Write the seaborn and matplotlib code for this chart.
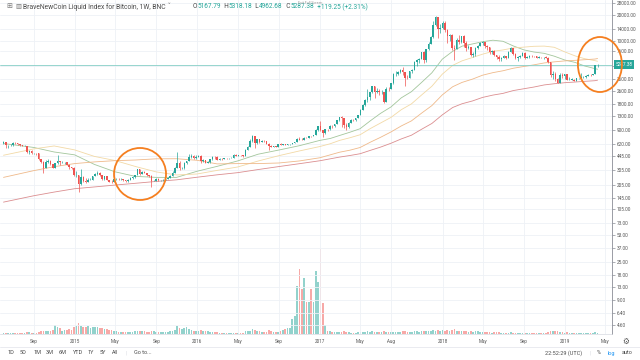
import numpy as np
import pandas as pd
import matplotlib
matplotlib.use("Agg")
import matplotlib.pyplot as plt
import matplotlib.dates as mdates
from matplotlib.patches import Ellipse
from matplotlib.transforms import IdentityTransform, blended_transform_factory
from matplotlib.ticker import NullLocator
import seaborn as sns

# weekly bars, BraveNewCoin liquid index (weeks start on Monday)
first_week = "2014-06-02"
first_open = 630

close_2014 = [655, 595, 595, 600, 635, 627, 620, 595, 588, 590, 500, 515, 478, 480, 478, 410,
              375, 320, 378, 390, 355, 325, 365, 387, 375, 375, 375, 350, 330, 320, 264]
close_2015 = [265, 210, 253, 226, 223, 234, 235, 260, 275, 285, 268, 242, 260, 236, 223, 219,
              240, 240, 237, 240, 230, 225, 233, 245, 250, 270, 310, 274, 290, 281, 265, 258,
              228, 229, 240, 230, 231, 232, 238, 247, 262, 285, 325, 373, 320, 323, 370, 388,
              435, 440, 422, 430]
close_2016 = [447, 387, 403, 368, 376, 407, 438, 433, 403, 413, 410, 425, 420, 422, 428, 460,
              451, 458, 456, 440, 527, 574, 673, 760, 628, 703, 650, 678, 661, 624, 590, 570,
              581, 573, 610, 606, 610, 602, 612, 617, 641, 657, 700, 695, 688, 730, 728, 765,
              762, 790, 890, 998]
close_2017 = [908, 820, 925, 915, 1015, 1000, 1050, 1170, 1270, 1230, 1020, 965, 1095, 1180,
              1175, 1245, 1350, 1550, 1770, 2040, 2200, 2520, 2950, 2520, 2560, 2500, 2500,
              1930, 2750, 2740, 3220, 4050, 4090, 4350, 4580, 4330, 3690, 3670, 4390, 4610,
              5690, 6010, 6150, 7390, 5950, 8040, 9330, 11230, 15300, 19100, 13900, 14150]
close_2018 = [16500, 13600, 11600, 11750, 8200, 8100, 10400, 9650, 11500, 9550, 8200, 8450,
              6850, 7030, 8350, 8800, 9400, 9650, 8700, 8500, 7350, 7700, 6780, 6500, 6150,
              6350, 6750, 6350, 7400, 8200, 7030, 6300, 6500, 6700, 7300, 6250, 6500, 6700,
              6620, 6600, 6300, 6500, 6480, 6480, 6400, 5600, 4000, 4150, 3600, 3250, 4000,
              3900, 4050]
close_2019 = [3500, 3530, 3530, 3410, 3650, 3670, 3750, 3800, 3910, 4000, 3990, 4100, 5168.13,
              5287.38]

high_2014 = [670, 660, 605, 610, 650, 645, 630, 625, 600, 600, 592, 525, 520, 490, 485, 480,
             415, 390, 400, 410, 395, 360, 370, 460, 390, 385, 380, 378, 360, 335, 330]
high_2015 = [300, 270, 310, 260, 245, 245, 248, 262, 285, 297, 290, 270, 262, 262, 236, 232,
             242, 246, 245, 245, 240, 232, 237, 253, 258, 270, 315, 314, 298, 295, 285, 270,
             268, 235, 243, 243, 234, 238, 240, 250, 270, 295, 335, 500, 390, 330, 375, 392,
             467, 465, 457, 452]
high_2016 = [460, 460, 410, 405, 392, 410, 445, 445, 440, 420, 420, 427, 425, 425, 430, 465,
             467, 462, 460, 457, 535, 590, 700, 780, 770, 710, 705, 680, 680, 665, 630, 600,
             585, 590, 612, 630, 615, 612, 618, 620, 642, 660, 720, 740, 720, 750, 745, 770,
             775, 795, 930, 1000]
high_2017 = [1150, 910, 935, 925, 1030, 1020, 1060, 1190, 1290, 1330, 1250, 1075, 1105, 1210,
             1215, 1250, 1350, 1590, 1830, 2100, 2760, 2550, 2990, 2980, 2780, 2700, 2650,
             2550, 2900, 2850, 3250, 4200, 4480, 4400, 4750, 4975, 4350, 3950, 4470, 4650,
             5850, 6190, 6320, 7500, 7600, 8100, 9700, 11400, 17200, 19800, 19200, 15800]
high_2018 = [17200, 17100, 14000, 12250, 11950, 9100, 10980, 11750, 11600, 11700, 9900, 9000,
             8500, 7500, 8430, 9030, 9750, 9990, 9800, 8950, 8600, 7800, 7800, 6850, 6800,
             6500, 6860, 6750, 7560, 8500, 8200, 7160, 6600, 6880, 7400, 7410, 6650, 6800,
             6800, 6760, 6670, 6750, 6540, 6550, 6600, 6480, 5650, 4420, 4300, 3630, 4200,
             4250, 4100]
high_2019 = [4100, 3750, 3640, 3570, 3680, 3720, 4180, 3890, 3960, 4050, 4090, 4120, 5180,
             5318.18]

low_2014 = [625, 560, 560, 585, 590, 610, 600, 580, 580, 577, 480, 465, 465, 470, 460, 395,
            370, 280, 320, 370, 345, 320, 320, 360, 345, 370, 360, 345, 310, 310, 260]
low_2015 = [255, 170, 205, 218, 215, 222, 230, 233, 258, 268, 258, 236, 236, 234, 218, 214,
            220, 235, 232, 231, 226, 220, 222, 232, 240, 248, 264, 270, 272, 278, 260, 255,
            195, 225, 226, 227, 224, 225, 236, 241, 246, 262, 283, 320, 305, 310, 315, 355,
            385, 420, 410, 415]
low_2016 = [440, 370, 375, 365, 365, 370, 400, 415, 400, 400, 405, 408, 412, 415, 418, 425,
            445, 445, 450, 435, 440, 520, 565, 660, 560, 620, 640, 645, 650, 610, 530, 565,
            570, 565, 570, 600, 602, 595, 598, 607, 615, 632, 650, 680, 685, 690, 720, 725,
            750, 765, 790, 888]
low_2017 = [880, 755, 810, 880, 910, 960, 980, 1050, 1140, 980, 950, 890, 960, 1075, 1160,
            1140, 1240, 1340, 1540, 1740, 1900, 2050, 2450, 2150, 2450, 2300, 2380, 1850,
            1930, 2580, 2700, 3150, 3850, 3950, 4250, 4000, 3000, 3550, 3650, 4210, 4580,
            5100, 5450, 6100, 5500, 5600, 7950, 9400, 10900, 15000, 11000, 12500]
low_2018 = [14000, 12800, 9500, 10100, 7800, 6000, 8100, 9300, 9400, 8400, 7700, 8100, 6700,
            6550, 6700, 8000, 8700, 9000, 8300, 7950, 7100, 7050, 6700, 6150, 5780, 5850,
            6300, 6150, 6320, 7400, 6900, 6200, 5880, 6250, 6620, 6150, 6250, 6250, 6500,
            6450, 6250, 6350, 6400, 6200, 6300, 5500, 3800, 3550, 3350, 3200, 3230, 3700,
            3600]
low_2019 = [3500, 3480, 3440, 3380, 3400, 3550, 3660, 3700, 3700, 3850, 3920, 3950, 4080,
            4962.68]

# volume, relative to the tallest week (=100)
vol_2014 = [1, 1, 1, 1, 1, 1, 1, 1, 1, 1, 2, 2, 1, 1, 1, 2, 3, 4, 3, 3, 4, 5, 11, 8, 7, 4, 5,
            5, 6, 5, 8]
vol_2015 = [9, 13, 10, 8, 8, 9, 7, 8, 8, 8, 7, 7, 6, 6, 5, 5, 4, 3, 2, 2, 2, 2, 2, 2, 2, 3,
            3, 4, 3, 3, 2, 2, 4, 3, 2, 2, 2, 2, 2, 2, 3, 3, 5, 10, 7, 6, 7, 8, 6, 5, 4, 4]
vol_2016 = [4, 5, 3, 3, 3, 2, 2, 2, 2, 1, 1, 1, 1, 1, 1, 1, 1, 1, 1, 1, 3, 3, 4, 6, 5, 3, 3,
            2, 2, 2, 5, 3, 2, 2, 2, 3, 5, 6, 7, 7, 18, 21, 57, 76, 53, 66, 38, 38, 53, 38, 74,
            61]
vol_2017 = [100, 37, 11, 4, 3, 2, 2, 2, 2, 2, 3, 2, 2, 1, 1, 1, 2, 2, 2, 2, 3, 2, 3, 2, 2, 2,
            2, 3, 2, 2, 2, 2, 2, 2, 2, 3, 3, 2, 2, 2, 3, 3, 2, 3, 3, 3, 3, 4, 5, 4, 5, 4]
vol_2018 = [5, 4, 5, 3, 5, 6, 3, 3, 3, 3, 3, 2, 3, 2, 3, 3, 2, 2, 2, 2, 2, 1, 2, 2, 2, 1, 1,
            1, 1, 2, 1, 1, 1, 1, 1, 1, 1, 1, 1, 1, 1, 1, 1, 1, 1, 2, 4, 3, 3, 3, 2, 2, 1]
vol_2019 = [2, 1, 1, 1, 1, 1, 1, 1, 1, 1, 1, 1, 2, 1]

# moving averages (30, 50, 100 and 200 weeks)
ma_dates = ["2014-06-02", "2014-08-31", "2014-10-31", "2014-12-31", "2015-02-28",
            "2015-04-30", "2015-06-30", "2015-08-31", "2015-10-31", "2015-12-31",
            "2016-02-29", "2016-04-30", "2016-06-30", "2016-08-31", "2016-10-31",
            "2016-12-31", "2017-01-31", "2017-02-28", "2017-03-31", "2017-04-30",
            "2017-05-31", "2017-06-30", "2017-07-31", "2017-08-31", "2017-09-30",
            "2017-10-31", "2017-11-30", "2017-12-31", "2018-01-31", "2018-02-28",
            "2018-03-31", "2018-04-30", "2018-05-31", "2018-06-30", "2018-07-31",
            "2018-08-31", "2018-09-30", "2018-10-31", "2018-11-30", "2018-12-31",
            "2019-01-31", "2019-02-28", "2019-03-31", "2019-04-08"]
ma30 = [625, 562, 497, 460, 355, 291, 257, 250, 250, 295, 337, 390, 468, 524, 589, 680, 716,
        777, 849, 933, 1159, 1413, 1680, 2152, 2539, 3281, 4235, 6122, 7574, 8710, 9243, 9820,
        10228, 9935, 8753, 7883, 7430, 7168, 6638, 5990, 5609, 5101, 4741, 4664]
ma50 = [455, 540, 585, 526, 441, 395, 336, 290, 267, 274, 302, 331, 389, 450, 511, 576, 621,
        680, 731, 792, 939, 1088, 1266, 1562, 1825, 2335, 2944, 4079, 5176, 5852, 6405, 7006,
        7567, 7861, 8295, 8482, 8674, 8722, 8446, 7463, 6689, 6213, 5885, 5790]
ma100 = [250, 300, 334, 363, 380, 393, 400, 413, 414, 397, 360, 363, 363, 369, 390, 425, 460,
         494, 522, 561, 649, 739, 854, 1006, 1152, 1428, 1743, 2327, 2904, 3266, 3568, 3967,
         4253, 4474, 4793, 5022, 5250, 5529, 5695, 5842, 5933, 6032, 6145, 6226]
ma200 = [128, 152, 168, 184, 193, 203, 213, 224, 234, 251, 268, 284, 309, 335, 362, 392, 413,
         433, 452, 474, 520, 567, 629, 708, 782, 922, 1075, 1356, 1656, 1833, 1977, 2175, 2317,
         2426, 2620, 2750, 2880, 3050, 3150, 3240, 3300, 3360, 3420, 3470]

price_ticks = [28000, 20000, 14000, 10000, 7600, 5100, 3600, 2600, 1800, 1300, 900, 620, 445,
               305, 205, 145, 105, 73, 53, 37, 25, 18, 13, 9, 6.4, 4.6]
hidden_tick = 5100  # sits under the last-price tag
date_ticks = ["2014-09-01", "2015-01-01", "2015-05-01", "2015-09-01", "2016-01-01",
              "2016-05-01", "2016-09-01", "2017-01-01", "2017-05-01", "2017-08-01",
              "2018-01-01", "2018-05-01", "2018-09-01", "2019-01-01", "2019-05-01"]
date_labels = ["Sep", "2015", "May", "Sep", "2016", "May", "Sep", "2017", "May", "Aug",
               "2018", "May", "Sep", "2019", "May"]

last_price = 5287.38

UP, DOWN = "#26a69a", "#ef5350"
VOL_UP, VOL_DOWN = "#92d2cc", "#f7a9a7"
MA_COLORS = {"30": "#a3c69c", "50": "#f2d9a6", "100": "#efb98a", "200": "#db8e90"}
TXT = "#4a4a4a"

sns.set_theme(style="white")
plt.rcParams["font.family"] = ["Roboto", "DejaVu Sans"]

closes = np.array(close_2014 + close_2015 + close_2016 + close_2017 + close_2018 + close_2019)
highs = np.array(high_2014 + high_2015 + high_2016 + high_2017 + high_2018 + high_2019)
lows = np.array(low_2014 + low_2015 + low_2016 + low_2017 + low_2018 + low_2019)
vols = np.array(vol_2014 + vol_2015 + vol_2016 + vol_2017 + vol_2018 + vol_2019)
opens = np.concatenate([[first_open], closes[:-1]])
highs = np.maximum(highs, np.maximum(opens, closes))
lows = np.minimum(lows, np.minimum(opens, closes))
weeks = pd.date_range(first_week, periods=len(closes), freq="7D")
x = mdates.date2num(weeks)

fig = plt.figure(figsize=(6.4, 3.6), dpi=100)
fig.patch.set_facecolor("white")
ax = fig.add_axes([0, 26 / 360, 612 / 640, 334 / 360])
vax = ax.twinx()
ax.set_zorder(vax.get_zorder() + 1)
ax.patch.set_visible(False)

# volume pane (overlay at the bottom)
up = closes >= opens
vax.bar(x, vols, width=5.0, color=np.where(up, VOL_UP, VOL_DOWN), linewidth=0)
vax.set_ylim(0, 393)
vax.axis("off")

# candles
col = np.where(up, UP, DOWN)
ax.vlines(x, lows, highs, colors=col, linewidth=0.5, zorder=3)
lo = np.minimum(opens, closes)
hi = np.maximum(np.maximum(opens, closes), lo * 1.007)
ax.bar(x, hi - lo, bottom=lo, width=4.6, color=col, linewidth=0, zorder=4)

# moving averages
ma = pd.DataFrame({"x": mdates.date2num(pd.to_datetime(ma_dates)),
                   "30": ma30, "50": ma50, "100": ma100, "200": ma200})
ma_long = ma.melt(id_vars="x", var_name="period", value_name="price")
sns.lineplot(data=ma_long, x="x", y="price", hue="period", palette=MA_COLORS,
             linewidth=0.6, legend=False, ax=ax, zorder=2)

ax.axhline(last_price, color="#86cfc6", linewidth=0.6, zorder=2)

ax.set_yscale("log")
ax.set_ylim(3.61, 30360)
ax.set_xlim(mdates.date2num(pd.Timestamp("2014-05-22 14:00")),
            mdates.date2num(pd.Timestamp("2019-05-21")))
ax.yaxis.set_minor_locator(NullLocator())
ax.set_yticks(price_ticks)
ax.set_yticklabels(["" if t == hidden_tick else f"{t:.2f}" for t in price_ticks])
ax.yaxis.tick_right()
ax.tick_params(axis="y", which="major", direction="out", length=2, width=0.5,
               color="#8a8d96", labelsize=3.4, labelcolor="#555555", pad=1.5)
ax.set_xticks(mdates.date2num(pd.to_datetime(date_ticks)))
ax.set_xticklabels(date_labels)
ax.tick_params(axis="x", length=0, labelsize=3.3, labelcolor="#555555", pad=3.5)
ax.set_xlabel("")
ax.set_ylabel("")
ax.grid(True, color="#eef1f6", linewidth=0.6)
for s in ["top", "left"]:
    ax.spines[s].set_visible(False)
ax.spines["right"].set_color("#8a8d96")
ax.spines["right"].set_linewidth(0.6)
ax.spines["bottom"].set_color("#d6d9e0")
ax.spines["bottom"].set_linewidth(0.5)

# last price tag on the scale
tag = blended_transform_factory(ax.transAxes, ax.transData)
ax.text(1.006, last_price, f"{last_price:.2f}", transform=tag, ha="left", va="center",
        fontsize=3.4, color="white", clip_on=False, zorder=6,
        bbox=dict(boxstyle="square,pad=0.35", fc=UP, ec="none"))

# hand drawn circles
for when, price, w, h in [("2015-07-14", 274, 52, 52), ("2019-04-15", 5300, 44, 55)]:
    cx, cy = ax.transData.transform((mdates.date2num(pd.Timestamp(when)), price))
    fig.add_artist(Ellipse((cx, cy), w, h, transform=IdentityTransform(), fill=False,
                           ec="#f57f20", lw=1.3, zorder=10))

# header
rend = fig.canvas.get_renderer()


def run(parts, x0, y0, size):
    for s, c in parts:
        t = fig.text(x0 / 640, 1 - y0 / 360, s, color=c, fontsize=size, va="center", ha="left")
        x0 += t.get_window_extent(renderer=rend).width


fig.text(6 / 640, 1 - 7 / 360, "⊞", fontsize=5, color="#777777", va="center")
fig.text(15 / 640, 1 - 7 / 360, "▥", fontsize=4.5, color="#777777", va="center")
run([("BraveNewCoin Liquid Index for Bitcoin, 1W, BNC", TXT), (" ˅", "#777777")], 23, 7, 4.9)
run([("O", TXT), ("5167.79", UP), ("  H", TXT), ("5318.18", UP), ("  L", TXT),
     ("4962.68", UP), ("  C", TXT), ("5287.38", UP), ("  +119.25 (+2.31%)", UP)], 193, 7, 4.7)
fig.text(298 / 640, 1 - 2.5 / 360, "Exit Full Screen", fontsize=2.6, color="#999999",
         va="center")

# bottom toolbar
fig.add_artist(plt.Line2D([0, 1], [1 - 346.5 / 360] * 2, color="#e6e8ee", lw=0.6))
for s, px in [("1D", 8), ("5D", 20), ("1M", 33), ("3M", 46), ("6M", 59), ("YTD", 73),
              ("1Y", 88), ("5Y", 100), ("All", 112), ("|", 126), ("Go to...", 134),
              ("22:52:29 (UTC)", 545), ("|", 589), ("%", 597), ("auto", 622)]:
    fig.text(px / 640, 1 - 353 / 360, s, fontsize=4.0, color="#4a4a4a" if s != "|" else "#d0d3da",
             va="center")
fig.text(608 / 640, 1 - 353 / 360, "log", fontsize=4.0, color="#2196f3", va="center")
fig.text(626 / 640, 1 - 341 / 360, "⚙", fontsize=5.5, color="#555555", va="center",
         ha="center", family="DejaVu Sans")

fig.savefig("out.png", dpi=100)
